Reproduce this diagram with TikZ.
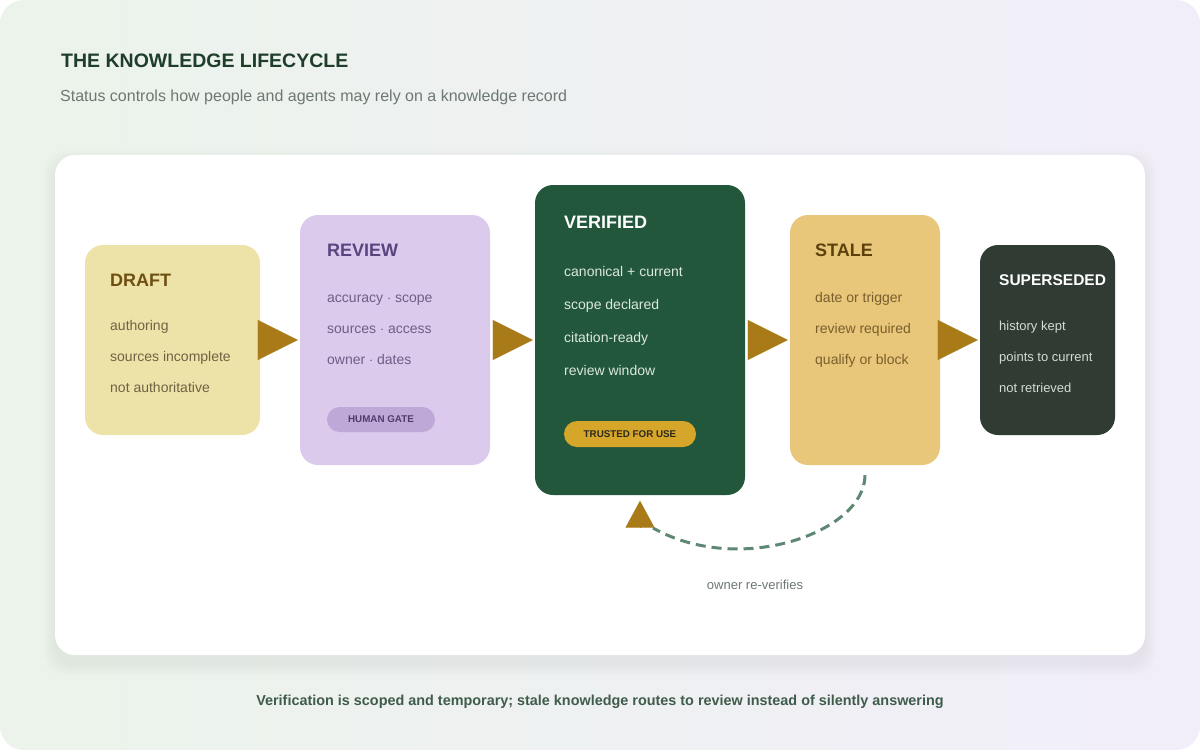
\documentclass[tikz,border=0pt]{standalone}
\usepackage{fontspec}
\setmainfont{Liberation Sans}
\usetikzlibrary{arrows.meta,positioning}

\definecolor{bgl}{HTML}{EBF3EA}
\definecolor{bgr}{HTML}{F2EEF9}
\definecolor{headc}{HTML}{1F3D2B}
\definecolor{subc}{HTML}{6D7872}
\definecolor{footc}{HTML}{3F5C4A}
\definecolor{arrowc}{HTML}{A97A18}
\definecolor{loopc}{HTML}{5E8873}
\definecolor{draftc}{HTML}{EDE2A8}
\definecolor{drafttx}{HTML}{6E4F12}
\definecolor{draftit}{HTML}{6F6344}
\definecolor{reviewc}{HTML}{DBCAEC}
\definecolor{reviewtx}{HTML}{5A4480}
\definecolor{reviewit}{HTML}{6E5E86}
\definecolor{gatec}{HTML}{BEA8D8}
\definecolor{gatetx}{HTML}{4F3B6E}
\definecolor{verifc}{HTML}{22573B}
\definecolor{verifit}{HTML}{DCE8DF}
\definecolor{trustc}{HTML}{D6A62A}
\definecolor{trusttx}{HTML}{2B2A1C}
\definecolor{stalec}{HTML}{E8C67A}
\definecolor{staletx}{HTML}{5D410C}
\definecolor{staleit}{HTML}{7A5F2C}
\definecolor{superc}{HTML}{2F3B33}
\definecolor{superit}{HTML}{D5DBD6}

\tikzset{
  stagebox/.style={rounded corners=18pt, inner sep=0pt},
  stagetitle/.style={anchor=base west, inner sep=0pt, font=\fontsize{18}{21}\selectfont\bfseries},
  stageitem/.style={anchor=base west, inner sep=0pt, font=\fontsize{14}{16}\selectfont},
  pill/.style={rounded corners=12.5pt, minimum height=25pt, inner sep=0pt, font=\fontsize{9.8}{11}\selectfont\bfseries},
  flowtip/.style={draw=arrowc, line width=0.1pt, -{Triangle[length=40pt,width=40pt]}, shorten >=2pt},
  loopline/.style={draw=loopc, line width=3pt, dash pattern=on 10pt off 6pt},
}

\begin{document}
\begin{tikzpicture}[x=1pt,y=-1pt]
\useasboundingbox (0,0) rectangle (1200,750);
\shade[left color=bgl, right color=bgr, rounded corners=24pt] (0,0) rectangle (1200,750);

% heading
\node[anchor=base west, inner sep=0pt, text=headc, font=\fontsize{19.5}{23}\selectfont\bfseries] (head) at (61,67) {THE KNOWLEDGE LIFECYCLE};
\node[anchor=base west, inner sep=0pt, text=subc, font=\fontsize{16}{19}\selectfont] (sub) at (60,101) {Status controls how people and agents may rely on a knowledge record};

% panel with soft shadow
\foreach \s in {1,...,12}{\fill[black, opacity=0.005, rounded corners=22pt] (55-\s,162-\s) rectangle (1145+\s,664+\s);}
\fill[white, rounded corners=20pt] (55,155) rectangle (1145,655);

% stages
\node[stagebox, fill=draftc, minimum width=175pt, minimum height=190pt] (draft) at (172.5,340) {};
\node[stagebox, fill=reviewc, minimum width=190pt, minimum height=250pt] (review) at (395,340) {};
\node[stagebox, fill=verifc, minimum width=210pt, minimum height=310pt] (verified) at (640,340) {};
\node[stagebox, fill=stalec, minimum width=150pt, minimum height=250pt] (stale) at (865,340) {};
\node[stagebox, fill=superc, minimum width=135pt, minimum height=190pt] (superseded) at (1047.5,340) {};

\node[stagetitle, text=drafttx] (draftT) at (110,286.5) {DRAFT};
\foreach \t [count=\i] in {authoring, sources incomplete, not authoritative}
  \node[stageitem, text=draftit] (draft-\i) at (110,{330+31*(\i-1)}) {\t};

\node[stagetitle, text=reviewtx] (reviewT) at (327,256.5) {REVIEW};
\foreach \t [count=\i] in {accuracy $\cdot$ scope, sources $\cdot$ access, owner $\cdot$ dates}
  \node[stageitem, text=reviewit] (review-\i) at (327,{302+31*(\i-1)}) {\t};
\node[pill, fill=gatec, text=gatetx, minimum width=108pt] (gate) at (381,419.5) {HUMAN GATE};

\node[stagetitle, text=white] (verifiedT) at (564,228.5) {VERIFIED};
\foreach \t [count=\i] in {canonical + current, scope declared, citation-ready, review window}
  \node[stageitem, text=verifit] (verified-\i) at (564,{276+33*(\i-1)}) {\t};
\node[pill, fill=trustc, text=trusttx, minimum width=132pt, minimum height=26pt, rounded corners=13pt] (trust) at (630,434) {TRUSTED FOR USE};

\node[stagetitle, text=staletx] (staleT) at (815,256.5) {STALE};
\foreach \t [count=\i] in {date or trigger, review required, qualify or block}
  \node[stageitem, text=staleit] (stale-\i) at (815,{302+31*(\i-1)}) {\t};

\node[stagetitle, text=white, font=\fontsize{15.5}{18}\selectfont\bfseries] (supersededT) at (999,285.5) {SUPERSEDED};
\foreach \t [count=\i] in {history kept, points to current, not retrieved}
  \node[stageitem, text=superit, font=\fontsize{13}{15}\selectfont] (superseded-\i) at (999,{330.5+31*(\i-1)}) {\t};

% forward steps
\draw[flowtip, shorten <=-2pt] (draft.east) -- (review.west);
\draw[flowtip, shorten <=3pt] (review.east) -- (verified.west);
\draw[flowtip, shorten <=3pt] (verified.east) -- (stale.west);
\draw[flowtip, shorten <=-2pt] (stale.east) -- (superseded.west);

% return loop
\coordinate (back) at (640,528);
\draw[loopline] ([yshift=-10pt]stale.south) .. controls (865,532) and (740,577) .. ([xshift=13pt]back);
\draw[draw=arrowc, line width=1pt, -{Triangle[length=27pt,width=29pt]}, shorten >=5.5pt] (back) -- (verified.south);
\node[inner sep=0pt, text=subc, font=\fontsize{13}{15}\selectfont] (loopL) at (755,585) {owner re-verifies};

% footer
\node[anchor=base, inner sep=0pt, text=footc, font=\fontsize{14.4}{17}\selectfont\bfseries] (foot) at (600,705) {Verification is scoped and temporary; stale knowledge routes to review instead of silently answering};
\end{tikzpicture}
\end{document}
